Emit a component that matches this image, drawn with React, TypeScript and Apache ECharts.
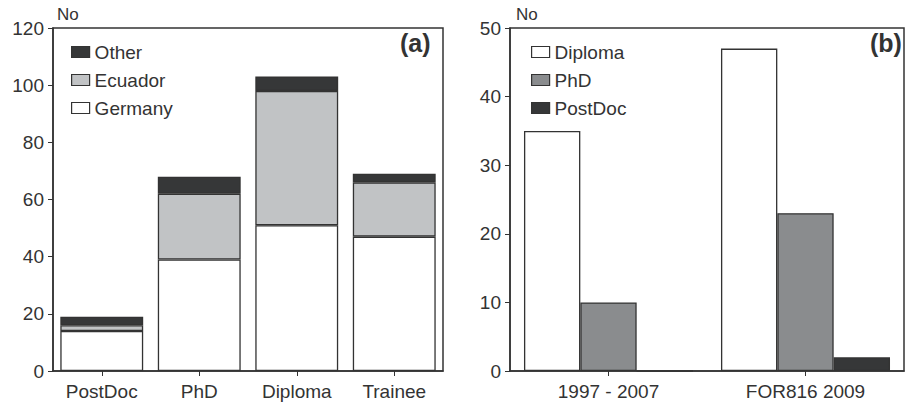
import React, { useEffect, useRef } from "react";
import * as echarts from "echarts";

const levelCategories = ["PostDoc", "PhD", "Diploma", "Trainee"];
const germany = [14, 39, 51, 47];
const ecuador = [2, 23, 47, 19];
const other = [3, 6, 5, 3];

const periodCategories = ["1997 - 2007", "FOR816 2009"];
const diploma = [35, 47];
const phd = [10, 23];
const postdoc = [0, 2];

const leftTicks = { min: 0, max: 120, interval: 20 };
const rightTicks = { min: 0, max: 50, interval: 10 };

const FONT = "'Liberation Sans', Arial, sans-serif";
const INK = "#333";

export default function App() {
  const ref = useRef<HTMLDivElement>(null);
  useEffect(() => {
    if (!ref.current) return;
    const chart = echarts.init(ref.current, null, { renderer: "svg" });
    const border = { borderColor: INK, borderWidth: 1.3 };
    const axisLabel = { fontSize: 19, color: INK, fontFamily: FONT, margin: 9 };
    const yAxisBase = {
      type: "value",
      axisLine: { show: true, lineStyle: { color: INK, width: 1.5 } },
      axisTick: { show: true, inside: false, length: 5, lineStyle: { color: INK } },
      splitLine: { show: false },
      axisLabel,
    };
    const xAxisBase = {
      type: "category",
      axisLine: { show: true, lineStyle: { color: INK, width: 1.5 } },
      axisTick: { show: true, alignWithLabel: true, length: 5, lineStyle: { color: INK } },
      axisLabel: { ...axisLabel, margin: 11 },
    };
    const legendBase = {
      orient: "vertical",
      icon: "rect",
      itemWidth: 18,
      itemHeight: 11,
      itemGap: 6,
      top: 36,
      textStyle: { fontSize: 19, color: INK, fontFamily: FONT, lineHeight: 22 },
      itemStyle: { borderColor: INK, borderWidth: 1.2 },
      selectedMode: false,
    };
    chart.setOption({
      animation: false,
      textStyle: { fontFamily: FONT },
      grid: [
        { left: 53, top: 28, width: 390, height: 343, show: true, borderColor: INK, borderWidth: 1.5 },
        { left: 510, top: 28, width: 394, height: 343, show: true, borderColor: INK, borderWidth: 1.5 },
      ],
      xAxis: [
        { ...xAxisBase, gridIndex: 0, data: levelCategories },
        { ...xAxisBase, gridIndex: 1, data: periodCategories },
      ],
      yAxis: [
        { ...yAxisBase, gridIndex: 0, ...leftTicks },
        { ...yAxisBase, gridIndex: 1, ...rightTicks },
      ],
      legend: [
        { ...legendBase, left: 66, data: ["Other", "Ecuador", "Germany"] },
        { ...legendBase, left: 526, data: ["Diploma", "PhD", "PostDoc"] },
      ],
      series: [
        { name: "Germany", type: "bar", stack: "a", xAxisIndex: 0, yAxisIndex: 0, barWidth: "85%", data: germany, itemStyle: { color: "#ffffff", ...border } },
        { name: "Ecuador", type: "bar", stack: "a", xAxisIndex: 0, yAxisIndex: 0, barWidth: "85%", data: ecuador, itemStyle: { color: "#c1c3c5", ...border } },
        { name: "Other", type: "bar", stack: "a", xAxisIndex: 0, yAxisIndex: 0, barWidth: "85%", data: other, itemStyle: { color: "#363738", ...border } },
        { name: "Diploma", type: "bar", xAxisIndex: 1, yAxisIndex: 1, barWidth: "28.6%", barGap: "0%", data: diploma, itemStyle: { color: "#ffffff", ...border } },
        { name: "PhD", type: "bar", xAxisIndex: 1, yAxisIndex: 1, barWidth: "28.6%", barGap: "0%", data: phd, itemStyle: { color: "#8a8c8e", ...border } },
        { name: "PostDoc", type: "bar", xAxisIndex: 1, yAxisIndex: 1, barWidth: "28.6%", barGap: "0%", data: postdoc, itemStyle: { color: "#363738", ...border } },
      ],
      graphic: [
        { type: "text", left: 57, top: 6, style: { text: "No", fontSize: 17, fill: INK, fontFamily: FONT } },
        { type: "text", left: 516, top: 6, style: { text: "No", fontSize: 17, fill: INK, fontFamily: FONT } },
        { type: "text", left: 400, top: 30, style: { text: "(a)", fontSize: 25, fontWeight: 600, fill: INK, fontFamily: FONT } },
        { type: "text", left: 870, top: 30, style: { text: "(b)", fontSize: 25, fontWeight: 600, fill: INK, fontFamily: FONT } },
      ],
    });
    return () => chart.dispose();
  }, []);
  return <div ref={ref} style={{ position: "fixed", left: 0, top: 0, width: 906, height: 402, background: "#fff" }} />;
}
